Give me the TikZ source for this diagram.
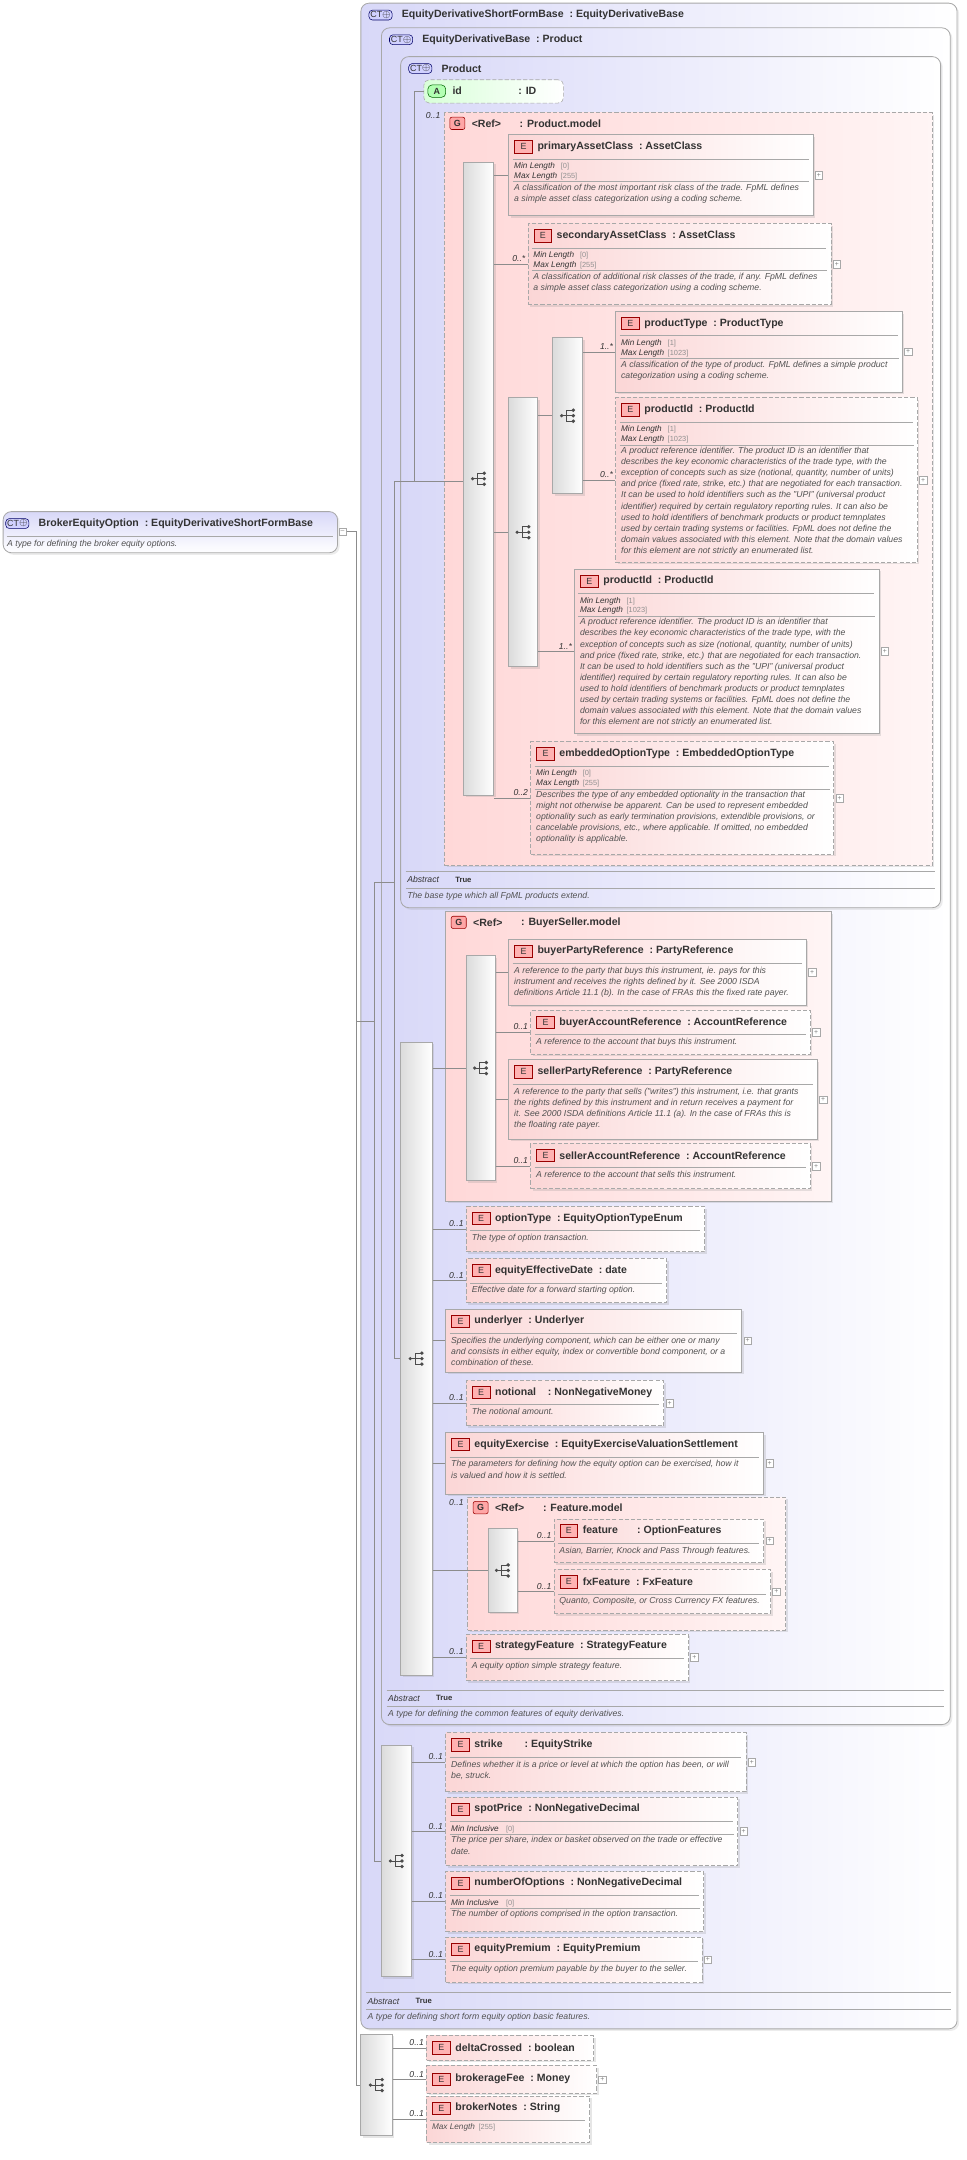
\documentclass[tikz,border=0pt]{standalone}
\usepackage{fontspec}
\setmainfont{Liberation Sans}
\usetikzlibrary{positioning}
\usetikzlibrary{shadows}
\definecolor{ctfill}{HTML}{D8D8F8}
\definecolor{elfill}{HTML}{FBD6D6}
\definecolor{grfill}{HTML}{FFD8D8}
\definecolor{bordergray}{HTML}{A8A8A8}
\definecolor{fgray}{HTML}{909090}
\definecolor{txt}{HTML}{333333}
\tikzset{
  ttl/.style={anchor=west,inner sep=0pt,font=\fontsize{7.7}{8}\selectfont\bfseries,text=txt},
  dsc/.style={anchor=north west,align=left,inner sep=1pt,font=\fontsize{6.35}{8.1}\selectfont\itshape,text=txt!85},
  fct/.style={anchor=north west,align=left,inner sep=1pt,font=\fontsize{6}{7.1}\selectfont,text=txt},
  sep/.style={draw=bordergray,line width=0.5pt},
  elbox/.style={anchor=north west,draw=bordergray,line width=0.6pt,left color=elfill,right color=white,inner sep=0pt,
    drop shadow={opacity=0.2,shadow xshift=1.5pt,shadow yshift=-1.5pt}},
  opt/.style={dashed,dash pattern=on 3pt off 1.5pt},
  ebadge/.style={draw=red!60!black,fill=red!30,minimum width=13pt,minimum height=9pt,inner sep=0pt,
    font=\fontsize{6.5}{7}\selectfont,text=txt},
  ctbadge/.style={anchor=west,draw=blue!40!black,rounded corners=2.5pt,fill=blue!18,inner sep=1pt,
    font=\fontsize{6.5}{7}\selectfont,text=txt},
  gbadge/.style={anchor=west,draw=red!60!black,rounded corners=1.5pt,fill=red!35,minimum width=11pt,minimum height=9pt,
    inner sep=0pt,font=\fontsize{6.5}{7}\selectfont\bfseries,text=txt},
  seqbar/.style={anchor=north west,draw=bordergray,line width=0.6pt,left color=black!14,right color=white,inner sep=0pt,
    drop shadow={opacity=0.2,shadow xshift=1.5pt,shadow yshift=-1.5pt}},
  conn/.style={draw=black!45,line width=0.5pt},
  mult/.style={inner sep=1.5pt,font=\fontsize{6.3}{7}\selectfont\itshape,text=txt},
  plusbox/.style={draw=bordergray,minimum size=5.5pt,inner sep=0pt,fill=white,font=\fontsize{5}{5}\selectfont,text=black!50},
}
% element box with title and description
\newcommand{\elt}[8]{%
  \node[elbox,#1,minimum width={(#5-#3)*1pt},minimum height={(#6-#4)*1pt}] (#2) at (#3,#4) {};
  \node[ebadge] (#2-b) at ({#3+11},{#4+9}) {E};
  \node[ttl] (#2-t) at ({#3+21},{#4+9}) {#7};
  \draw[sep] ({#3+3},{#4+18}) -- ({#5-3},{#4+18});
  \node[dsc] (#2-d) at ({#3+3},{#4+19.5}) {#8};}
% element box with facets
\newcommand{\eltf}[9]{%
  \node[elbox,#1,minimum width={(#5-#3)*1pt},minimum height={(#6-#4)*1pt}] (#2) at (#3,#4) {};
  \node[ebadge] (#2-b) at ({#3+11},{#4+9}) {E};
  \node[ttl] (#2-t) at ({#3+21},{#4+9}) {#7};
  \draw[sep] ({#3+3},{#4+18}) -- ({#5-3},{#4+18});
  \node[fct] (#2-f) at ({#3+3},{#4+19.5}) {#8};
  \draw[sep] ([xshift=3pt]#2-f.south -| #2.west) -- ([xshift=-3pt]#2-f.south -| #2.east);
  \node[dsc] (#2-d) at ([xshift=3pt,yshift=-0.5pt]#2-f.south -| #2.west) {#9};}
% element box with title only
\newcommand{\eltt}[7]{%
  \node[elbox,#1,minimum width={(#5-#3)*1pt},minimum height={(#6-#4)*1pt}] (#2) at (#3,#4) {};
  \node[ebadge] (#2-b) at ({#3+11},{(#4+#6)/2}) {E};
  \node[ttl] (#2-t) at ({#3+21},{(#4+#6)/2}) {#7};}
\newcommand{\fk}[3][34pt]{\makebox[#1][l]{\itshape #2}{\fontsize{5.4}{6}\selectfont\color{fgray}#3}}
\newcommand{\cl}{\ \ :\ }
\newcommand{\seq}[5]{%
  \node[seqbar,minimum width={(#4-#2)*1pt},minimum height={(#5-#3)*1pt}] (#1) at (#2,#3) {};
  \begin{scope}[shift={(#1.center)},x=1pt,y=1pt]
    \fill[black!70] (-4.5,0) circle (1.3);
    \draw[black!70,line width=0.6pt] (-4.5,0) -- (-1,0) (-1,-4) -- (-1,4) (-1,4) -- (4,4) (-1,0) -- (4,0) (-1,-4) -- (4,-4);
    \fill[black!70] (4,4) circle (1.4) (4,0) circle (1.4) (4,-4) circle (1.4);
  \end{scope}}
\newcommand{\lnk}[3]{\draw[conn] (#1.east |- #2.west) -- node[mult,pos=1,above left]{#3} (#2.west);}
\newcommand{\plus}[1]{\node[plusbox,right=1pt of #1.east] (#1-p) {+};}
\newcommand{\absrow}[5]{%
  \draw[sep] ({#2+4},#4) -- ({#3-4},#4);
  \node[anchor=west,inner sep=0pt,font=\fontsize{6.3}{7}\selectfont\itshape,text=txt] (#1-a) at ({#2+5},{#4+6}) {Abstract};
  \node[anchor=west,inner sep=0pt,font=\fontsize{5.6}{6}\selectfont\bfseries,text=txt] (#1-v) at ({#2+40},{#4+6}) {True};
  \draw[sep] ({#2+4},{#4+12}) -- ({#3-4},{#4+12});
  \node[anchor=west,inner sep=0pt,font=\fontsize{6.35}{7}\selectfont\itshape,text=txt!85] (#1-d) at ({#2+5},{#4+18}) {#5};}
\newcommand{\ctbox}[6]{%
  \node[anchor=north west,draw=bordergray,line width=0.6pt,rounded corners=6pt,left color=ctfill,right color=white,
    minimum width={(#4-#2)*1pt},minimum height={(#5-#3)*1pt},inner sep=0pt,
    drop shadow={opacity=0.15,shadow xshift=1.5pt,shadow yshift=-1.5pt}] (#1) at (#2,#3) {};
  \node[ctbadge] (#1-b) at ({#2+6},{#3+9}) {CT\raisebox{0.3pt}{\scriptsize$\oplus$}};
  \node[ttl] (#1-t) at ({#2+30},{#3+9}) {#6};}
\newcommand{\grp}[7]{%
  \node[anchor=north west,draw=bordergray,line width=0.6pt,#6,left color=grfill,right color=red!4,
    minimum width={(#4-#2)*1pt},minimum height={(#5-#3)*1pt},inner sep=0pt,
    drop shadow={opacity=0.2,shadow xshift=1.5pt,shadow yshift=-1.5pt}] (#1) at (#2,#3) {};
  \node[gbadge] (#1-b) at ({#2+4},{#3+8}) {G};
  \node[ttl] (#1-r) at ({#2+20},{#3+8}) {<Ref>};
  \node[ttl] (#1-t) at ({#2+55},{#3+8}) {: #7};}

\begin{document}
\begin{tikzpicture}[x=1pt,y=-1pt]
\useasboundingbox (0,0) rectangle (705,1576);
% root type
\node[anchor=north west,draw=bordergray,line width=0.6pt,rounded corners=6pt,top color=ctfill,bottom color=white,
  minimum width=244pt,minimum height=30pt,inner sep=0pt,drop shadow={opacity=0.15,shadow xshift=1.5pt,shadow yshift=-1.5pt}] (root) at (2,373) {};
\node[ctbadge] (root-b) at (4,382) {CT\raisebox{0.3pt}{\scriptsize$\oplus$}};
\node[ttl] (root-t) at (28,382) {BrokerEquityOption\cl EquityDerivativeShortFormBase};
\draw[sep] (5,391) -- (243,391);
\node[dsc,anchor=west] (root-d) at (4,397) {A type for defining the broker equity options.};
\node[plusbox] (rx) at (250,388) {--};

% nested complex types
\ctbox{sfb}{263}{2}{698}{1480}{EquityDerivativeShortFormBase\cl EquityDerivativeBase}
\ctbox{edb}{278}{20}{693}{1258}{EquityDerivativeBase\cl Product}
\ctbox{prd}{292}{41}{686}{662}{Product}
\absrow{prd}{292}{686}{636}{The base type which all FpML products extend.}
\absrow{edb}{278}{693}{1233}{A type for defining the common features of equity derivatives.}
\absrow{sfb}{263}{698}{1454}{A type for defining short form equity option basic features.}

% attribute id
\node[anchor=north west,draw=bordergray,opt,rounded corners=4pt,left color=green!15,right color=white,minimum width=102pt,
  minimum height=17pt,inner sep=0pt] (id) at (309,58) {};
\node[anchor=west,draw=green!40!black,fill=green!30,rounded corners=3pt,minimum width=13pt,minimum height=9pt,inner sep=0pt,
  font=\fontsize{6.5}{7}\selectfont\bfseries,text=txt] (id-b) at (312,66.5) {A};
\node[ttl] (id-t) at (330,66.5) {id};
\node[ttl] (id-y) at (378,66.5) {: ID};

% Product.model
\grp{pm}{324}{82}{680}{631}{opt}{Product.model}
\node[mult] (pm-m) at (316,84) {0..1};
\seq{pmseq}{338}{118}{360}{580}
\seq{ch}{371}{290}{392}{486}
\seq{ps}{403}{246}{425}{360}
\eltf{}{prim}{371}{98}{593}{157}{primaryAssetClass\cl AssetClass}{\fk{Min Length}{[0]}\\\fk{Max Length}{[255]}}{A classification of the most important risk class of the trade. FpML defines\\a simple asset class categorization using a coding scheme.}
\eltf{opt}{sec}{385}{163}{606}{222}{secondaryAssetClass\cl AssetClass}{\fk{Min Length}{[0]}\\\fk{Max Length}{[255]}}{A classification of additional risk classes of the trade, if any. FpML defines\\a simple asset class categorization using a coding scheme.}
\eltf{}{ptype}{449}{227}{658}{286}{productType\cl ProductType}{\fk{Min Length}{[1]}\\\fk{Max Length}{[1023]}}{A classification of the type of product. FpML defines a simple product\\categorization using a coding scheme.}
\eltf{opt}{pid1}{449}{290}{669}{410}{productId\cl ProductId}{\fk{Min Length}{[1]}\\\fk{Max Length}{[1023]}}{A product reference identifier. The product ID is an identifier that\\describes the key economic characteristics of the trade type, with the\\exception of concepts such as size (notional, quantity, number of units)\\and price (fixed rate, strike, etc.) that are negotiated for each transaction.\\It can be used to hold identifiers such as the "UPI" (universal product\\identifier) required by certain regulatory reporting rules. It can also be\\used to hold identifiers of benchmark products or product temnplates\\used by certain trading systems or facilities. FpML does not define the\\domain values associated with this element. Note that the domain values\\for this element are not strictly an enumerated list.}
\eltf{}{pid2}{419}{415}{641}{535}{productId\cl ProductId}{\fk{Min Length}{[1]}\\\fk{Max Length}{[1023]}}{A product reference identifier. The product ID is an identifier that\\describes the key economic characteristics of the trade type, with the\\exception of concepts such as size (notional, quantity, number of units)\\and price (fixed rate, strike, etc.) that are negotiated for each transaction.\\It can be used to hold identifiers such as the "UPI" (universal product\\identifier) required by certain regulatory reporting rules. It can also be\\used to hold identifiers of benchmark products or product temnplates\\used by certain trading systems or facilities. FpML does not define the\\domain values associated with this element. Note that the domain values\\for this element are not strictly an enumerated list.}
\eltf{opt}{emb}{387}{541}{608}{623}{embeddedOptionType\cl EmbeddedOptionType}{\fk{Min Length}{[0]}\\\fk{Max Length}{[255]}}{Describes the type of any embedded optionality in the transaction that\\might not otherwise be apparent. Can be used to represent embedded\\optionality such as early termination provisions, extendible provisions, or\\cancelable provisions, etc., where applicable. If omitted, no embedded\\optionality is applicable.}
\foreach \e in {prim,sec,ptype,pid1,pid2,emb} {\plus{\e}}
\lnk{pmseq}{prim}{}
\lnk{pmseq}{sec}{0..*}
\lnk{pmseq}{ch}{}
\lnk{pmseq}{emb}{0..2}
\lnk{ch}{ps}{}
\lnk{ch}{pid2}{1..*}
\lnk{ps}{ptype}{1..*}
\lnk{ps}{pid1}{0..*}

% BuyerSeller.model
\grp{bs}{325}{665}{606}{876}{}{BuyerSeller.model}
\seq{bsseq}{340}{697}{361}{861}
\elt{}{bp}{371}{685}{588}{733}{buyerPartyReference\cl PartyReference}{A reference to the party that buys this instrument, ie. pays for this\\instrument and receives the rights defined by it. See 2000 ISDA\\definitions Article 11.1 (b). In the case of FRAs this the fixed rate payer.}
\elt{opt}{ba}{387}{737}{591}{769}{buyerAccountReference\cl AccountReference}{A reference to the account that buys this instrument.}
\elt{}{sp}{371}{773}{596}{831}{sellerPartyReference\cl PartyReference}{A reference to the party that sells ("writes") this instrument, i.e. that grants\\the rights defined by this instrument and in return receives a payment for\\it. See 2000 ISDA definitions Article 11.1 (a). In the case of FRAs this is\\the floating rate payer.}
\elt{opt}{sa}{387}{834}{591}{867}{sellerAccountReference\cl AccountReference}{A reference to the account that sells this instrument.}
\foreach \e in {bp,ba,sp,sa} {\plus{\e}}
\lnk{bsseq}{bp}{}
\lnk{bsseq}{ba}{0..1}
\lnk{bsseq}{sp}{}
\lnk{bsseq}{sa}{0..1}

% EquityDerivativeBase content
\seq{edbseq}{292}{760}{315}{1222}
\elt{opt}{optt}{340}{880}{514}{913}{optionType\cl EquityOptionTypeEnum}{The type of option transaction.}
\elt{opt}{eff}{340}{918}{486}{950}{equityEffectiveDate\cl date}{Effective date for a forward starting option.}
\elt{}{und}{325}{955}{541}{1001}{underlyer\cl Underlyer}{Specifies the underlying component, which can be either one or many\\and consists in either equity, index or convertible bond component, or a\\combination of these.}
\elt{opt}{ntl}{340}{1007}{484}{1040}{notional\ \ \cl NonNegativeMoney}{The notional amount.}
\elt{}{exer}{325}{1045}{557}{1090}{equityExercise\cl EquityExerciseValuationSettlement}{The parameters for defining how the equity option can be exercised, how it\\is valued and how it is settled.}
\grp{fm}{341}{1092}{573}{1189}{opt}{Feature.model}
\node[mult] (fm-m) at (333,1096) {0..1};
\seq{fmseq}{356}{1115}{377}{1176}
\elt{opt}{feat}{404}{1108}{557}{1140}{feature\hspace{14pt}:\ OptionFeatures}{Asian, Barrier, Knock and Pass Through features.}
\elt{opt}{fx}{404}{1145}{562}{1177}{fxFeature\cl FxFeature}{Quanto, Composite, or Cross Currency FX features.}
\elt{opt}{strat}{340}{1192}{502}{1226}{strategyFeature\cl StrategyFeature}{A equity option simple strategy feature.}
\foreach \e in {und,ntl,exer,feat,fx,strat} {\plus{\e}}
\lnk{edbseq}{bsseq}{}
\lnk{edbseq}{optt}{0..1}
\lnk{edbseq}{eff}{0..1}
\lnk{edbseq}{und}{}
\lnk{edbseq}{ntl}{0..1}
\lnk{edbseq}{exer}{}
\lnk{edbseq}{fmseq}{}
\lnk{edbseq}{strat}{0..1}
\lnk{fmseq}{feat}{0..1}
\lnk{fmseq}{fx}{0..1}

% EquityDerivativeShortFormBase content
\seq{sfseq}{278}{1273}{300}{1442}
\elt{opt}{strike}{325}{1264}{544}{1307}{strike\hspace{16pt}:\ EquityStrike}{Defines whether it is a price or level at which the option has been, or will\\be, struck.}
\eltf{opt}{spot}{325}{1311}{538}{1361}{spotPrice\cl NonNegativeDecimal}{\fk[40pt]{Min Inclusive}{[0]}}{The price per share, index or basket observed on the trade or effective\\date.}
\eltf{opt}{num}{325}{1365}{513}{1409}{numberOfOptions\cl NonNegativeDecimal}{\fk[40pt]{Min Inclusive}{[0]}}{The number of options comprised in the option transaction.}
\elt{opt}{prem}{325}{1413}{512}{1446}{equityPremium\cl EquityPremium}{The equity option premium payable by the buyer to the seller.}
\foreach \e in {strike,spot,prem} {\plus{\e}}
\foreach \e in {strike,spot,num,prem} {\lnk{sfseq}{\e}{0..1}}

% BrokerEquityOption content
\seq{bkseq}{263}{1484}{286}{1558}
\eltt{opt}{delta}{311}{1485}{433}{1503}{deltaCrossed\cl boolean}
\eltt{opt}{fee}{311}{1507}{435}{1527}{brokerageFee\cl Money}
\elt{opt}{notes}{311}{1529}{430}{1563}{brokerNotes\cl String}{\fontsize{6}{7}\selectfont\upshape\fk{Max Length}{[255]}}
\plus{fee}
\foreach \e in {delta,fee,notes} {\lnk{bkseq}{\e}{0..1}}

% derivation chain
\coordinate (j0) at (260,388);
\coordinate (j1) at (260,745);
\coordinate (j2) at (273,644);
\coordinate (j3) at (288,351);
\coordinate (j4) at (302,351);
\draw[conn] (rx) -- (j0) |- (bkseq.west);
\draw[conn] (j1) -- (j1 -| j2);
\draw[conn] (j2) |- (sfseq.west);
\draw[conn] (j2) -- (j2 -| j3);
\draw[conn] (j3) |- (edbseq.west);
\draw[conn] (j3) -- (j4);
\draw[conn] (id.west) -| (j4) -- (j4 -| pmseq.west);
\end{tikzpicture}
\end{document}
